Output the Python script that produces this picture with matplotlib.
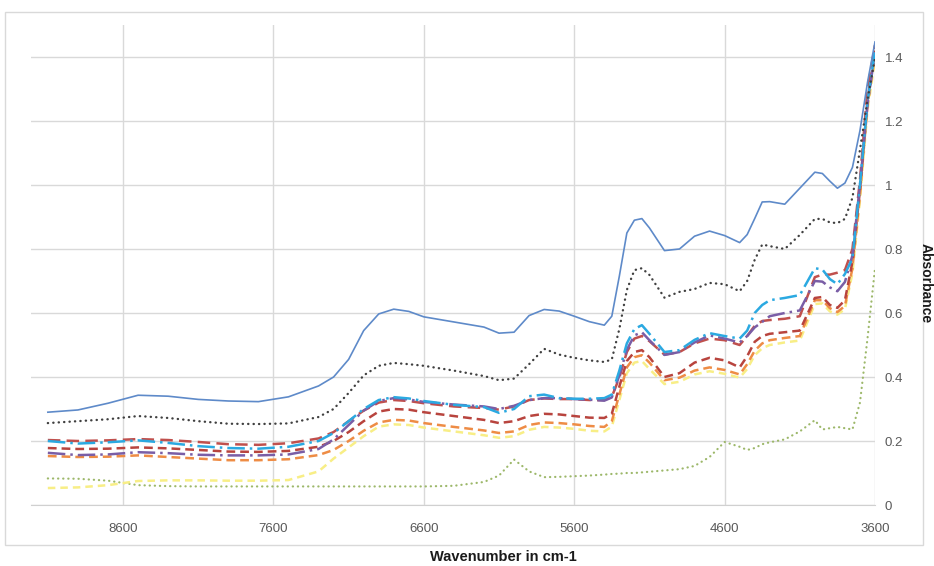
import matplotlib
matplotlib.use("Agg")
import matplotlib.pyplot as plt
from matplotlib.patches import Rectangle

# ---- data -----------------------------------------------------------
wavenumber = [9100, 8900, 8700, 8500, 8300, 8100, 7900, 7700, 7500, 7300,
              7200, 7100, 7000, 6900, 6800, 6700, 6600, 6400, 6200, 6100,
              6000, 5900, 5800, 5700, 5600, 5500, 5400, 5350, 5300, 5250,
              5200, 5150, 5100, 5000, 4900, 4800, 4700, 4600, 4500, 4450,
              4400, 4350, 4300, 4200, 4100, 4000, 3950, 3900, 3850, 3800,
              3750, 3700, 3650, 3600]

s_blue = [0.290, 0.297, 0.318, 0.343, 0.340, 0.330, 0.325, 0.323, 0.338, 0.372,
          0.400, 0.455, 0.545, 0.597, 0.612, 0.605, 0.588, 0.572, 0.556, 0.537,
          0.540, 0.592, 0.611, 0.606, 0.590, 0.573, 0.562, 0.590, 0.715, 0.850,
          0.890, 0.895, 0.866, 0.795, 0.800, 0.840, 0.856, 0.842, 0.820, 0.845,
          0.895, 0.947, 0.948, 0.940, 0.990, 1.040, 1.036, 1.012, 0.990, 1.006,
          1.055, 1.170, 1.320, 1.447]

s_black = [0.256, 0.262, 0.268, 0.278, 0.272, 0.262, 0.254, 0.253, 0.255, 0.275,
           0.300, 0.350, 0.405, 0.435, 0.444, 0.440, 0.435, 0.420, 0.403, 0.390,
           0.395, 0.440, 0.488, 0.470, 0.460, 0.452, 0.447, 0.455, 0.550, 0.672,
           0.734, 0.740, 0.719, 0.648, 0.666, 0.675, 0.694, 0.690, 0.668, 0.700,
           0.766, 0.814, 0.809, 0.800, 0.844, 0.894, 0.894, 0.883, 0.881, 0.894,
           0.960, 1.110, 1.266, 1.397]

s_cyan = [0.200, 0.192, 0.196, 0.202, 0.194, 0.184, 0.178, 0.176, 0.182, 0.200,
          0.225, 0.262, 0.300, 0.328, 0.337, 0.333, 0.325, 0.313, 0.306, 0.288,
          0.300, 0.340, 0.345, 0.334, 0.332, 0.332, 0.334, 0.345, 0.420, 0.505,
          0.550, 0.562, 0.535, 0.478, 0.484, 0.516, 0.537, 0.528, 0.520, 0.545,
          0.600, 0.625, 0.640, 0.647, 0.656, 0.740, 0.736, 0.706, 0.690, 0.722,
          0.770, 1.000, 1.260, 1.420]

s_purple = [0.163, 0.156, 0.158, 0.165, 0.162, 0.157, 0.155, 0.155, 0.158, 0.175,
            0.205, 0.250, 0.295, 0.325, 0.334, 0.330, 0.322, 0.314, 0.308, 0.300,
            0.310, 0.328, 0.334, 0.334, 0.331, 0.329, 0.326, 0.336, 0.405, 0.485,
            0.530, 0.540, 0.515, 0.469, 0.478, 0.508, 0.530, 0.520, 0.508, 0.528,
            0.555, 0.572, 0.590, 0.600, 0.608, 0.700, 0.698, 0.680, 0.668, 0.697,
            0.780, 1.000, 1.250, 1.415]

s_red1 = [0.203, 0.200, 0.202, 0.206, 0.203, 0.197, 0.190, 0.188, 0.193, 0.208,
          0.228, 0.262, 0.295, 0.320, 0.328, 0.325, 0.318, 0.308, 0.303, 0.298,
          0.308, 0.328, 0.333, 0.331, 0.331, 0.328, 0.328, 0.338, 0.398, 0.478,
          0.520, 0.528, 0.512, 0.470, 0.478, 0.505, 0.520, 0.515, 0.500, 0.528,
          0.560, 0.575, 0.578, 0.582, 0.590, 0.712, 0.720, 0.720, 0.726, 0.734,
          0.800, 1.016, 1.300, 1.437]

s_red2 = [0.178, 0.175, 0.176, 0.180, 0.177, 0.172, 0.167, 0.166, 0.169, 0.182,
          0.200, 0.228, 0.262, 0.292, 0.300, 0.298, 0.290, 0.278, 0.266, 0.256,
          0.262, 0.278, 0.285, 0.283, 0.278, 0.273, 0.272, 0.285, 0.370, 0.450,
          0.478, 0.484, 0.462, 0.400, 0.412, 0.445, 0.460, 0.452, 0.430, 0.465,
          0.510, 0.528, 0.535, 0.540, 0.545, 0.647, 0.650, 0.625, 0.616, 0.640,
          0.760, 0.984, 1.266, 1.420]

s_orange = [0.153, 0.150, 0.151, 0.155, 0.150, 0.145, 0.140, 0.140, 0.143, 0.156,
            0.172, 0.200, 0.232, 0.258, 0.266, 0.264, 0.256, 0.244, 0.233, 0.225,
            0.230, 0.250, 0.258, 0.256, 0.252, 0.247, 0.244, 0.262, 0.345, 0.430,
            0.462, 0.468, 0.445, 0.390, 0.398, 0.420, 0.430, 0.422, 0.408, 0.440,
            0.482, 0.505, 0.515, 0.522, 0.528, 0.640, 0.640, 0.615, 0.603, 0.622,
            0.740, 0.969, 1.250, 1.406]

s_yellow = [0.053, 0.055, 0.062, 0.075, 0.077, 0.077, 0.076, 0.076, 0.078, 0.105,
            0.145, 0.180, 0.215, 0.245, 0.252, 0.250, 0.242, 0.230, 0.218, 0.210,
            0.215, 0.235, 0.244, 0.242, 0.238, 0.232, 0.230, 0.245, 0.328, 0.412,
            0.445, 0.450, 0.425, 0.378, 0.385, 0.408, 0.418, 0.410, 0.398, 0.425,
            0.468, 0.490, 0.500, 0.508, 0.514, 0.628, 0.630, 0.605, 0.595, 0.612,
            0.725, 0.953, 1.234, 1.390]

s_green = [0.083, 0.082, 0.076, 0.062, 0.059, 0.058, 0.058, 0.058, 0.058, 0.058,
           0.058, 0.058, 0.058, 0.058, 0.058, 0.058, 0.058, 0.060, 0.072, 0.092,
           0.142, 0.105, 0.087, 0.088, 0.090, 0.092, 0.095, 0.097, 0.098, 0.100,
           0.100, 0.102, 0.104, 0.108, 0.112, 0.122, 0.150, 0.197, 0.182, 0.172,
           0.178, 0.190, 0.196, 0.205, 0.230, 0.265, 0.236, 0.240, 0.244, 0.240,
           0.236, 0.320, 0.520, 0.740]

x_ticks = [8600, 7600, 6600, 5600, 4600, 3600]
y_ticks = [0, 0.2, 0.4, 0.6, 0.8, 1.0, 1.2, 1.4]
y_tick_labels = ["0", "0.2", "0.4", "0.6", "0.8", "1", "1.2", "1.4"]
x_label = "Wavenumber in cm-1"
y_label = "Absorbance"

# ---- figure -----------------------------------------------------------
W, H = 934, 566
fig = plt.figure(figsize=(W / 100, H / 100), dpi=100)
fig.patch.set_facecolor("white")

# outer chart border
fig.patches.append(Rectangle((5 / W, 1 - 545 / H), 918 / W, 533 / H,
                             transform=fig.transFigure, fill=False,
                             edgecolor="#D9D9D9", linewidth=1.0))

L, R, T, B = 31, 875, 25, 505
ax = fig.add_axes([L / W, 1 - B / H, (R - L) / W, (B - T) / H])

tick_font = ["Liberation Sans Narrow", "Liberation Sans", "DejaVu Sans"]

series = [
    (s_green,  dict(color="#9DB86A", lw=1.6, ls=(0, (0.1, 2.2)), dash_capstyle="round")),
    (s_yellow, dict(color="#F8EE86", lw=1.8, ls=(0, (3, 2)))),
    (s_orange, dict(color="#EE8C45", lw=1.8, ls=(0, (3.5, 2)))),
    (s_red2,   dict(color="#B8443E", lw=1.8, ls=(0, (3.5, 2)))),
    (s_red1,   dict(color="#C0504D", lw=1.8, ls=(0, (5, 2.5)))),
    (s_purple, dict(color="#7A5EA6", lw=1.8, ls=(0, (7, 2, 1, 2)))),
    (s_cyan,   dict(color="#2BA9E1", lw=1.8, ls=(0, (7, 2, 1, 2)))),
    (s_black,  dict(color="#404040", lw=1.7, ls=(0, (0.1, 2.2)), dash_capstyle="round")),
    (s_blue,   dict(color="#5E8AC9", lw=1.2, ls="-")),
]
for vals, st in series:
    ax.plot(wavenumber, vals, **st)

ax.set_xlim(9212, 3600)
ax.set_ylim(0, 1.5)
ax.set_xticks(x_ticks)
ax.set_xticklabels([str(v) for v in x_ticks])
ax.set_yticks(y_ticks)
ax.set_yticklabels(y_tick_labels)
ax.yaxis.tick_right()
ax.grid(True, color="#D9D9D9", linewidth=1.0)
ax.set_axisbelow(True)
for sp in ["top", "left", "right"]:
    ax.spines[sp].set_visible(False)
ax.spines["bottom"].set_color("#D0D0D0")
ax.tick_params(axis="both", length=0, colors="#595959", labelsize=9.5)
ax.tick_params(axis="x", pad=13)
ax.tick_params(axis="y", pad=7)
for lab in ax.get_xticklabels() + ax.get_yticklabels():
    lab.set_fontfamily(tick_font)

fig.text(503 / W, 1 - 557 / H, x_label, ha="center", va="center",
         fontsize=10.5, fontweight="bold", color="#1A1A1A",
         family=["Liberation Sans Narrow", "Liberation Sans", "DejaVu Sans"])
fig.text(933 / W, 1 - 283 / H, y_label, ha="right", va="center", rotation=270,
         fontsize=10, fontweight="bold", color="#1A1A1A",
         family=["Liberation Sans Narrow", "Liberation Sans", "DejaVu Sans"])

fig.savefig("out.png", dpi=100, facecolor="white")
